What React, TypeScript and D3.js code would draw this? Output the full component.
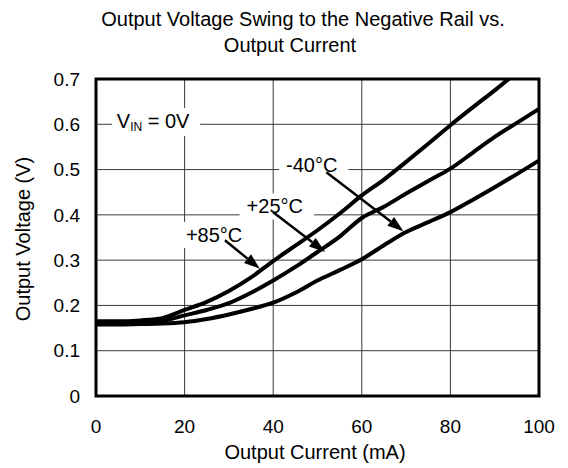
import { useEffect, useRef } from 'react';
import * as d3 from 'd3';

const W = 568;
const H = 468;

// output current (mA)
const currents = [0, 5, 10, 15, 20, 25, 30, 35, 40, 45, 50, 55, 60, 65, 70, 75, 80, 85, 90, 95, 100];
// output voltage (V) per temperature
const v85 = [0.165, 0.165, 0.167, 0.172, 0.19, 0.208, 0.232, 0.262, 0.298, 0.332, 0.366, 0.403, 0.443, 0.478, 0.517, 0.557, 0.598, 0.637, 0.675, 0.715, 0.755];
const v25 = [0.162, 0.162, 0.163, 0.166, 0.178, 0.19, 0.205, 0.228, 0.255, 0.285, 0.318, 0.352, 0.393, 0.418, 0.447, 0.475, 0.502, 0.537, 0.572, 0.603, 0.634];
const vm40 = [0.158, 0.158, 0.159, 0.16, 0.163, 0.17, 0.18, 0.192, 0.206, 0.228, 0.255, 0.278, 0.302, 0.333, 0.362, 0.384, 0.406, 0.433, 0.461, 0.49, 0.52];

const xTicks = [0, 20, 40, 60, 80, 100];
const yTicks = [0, 0.1, 0.2, 0.3, 0.4, 0.5, 0.6, 0.7];

// labels and arrows, in data units (mA, V)
const labels = ['+85°C', '+25°C', '-40°C'];
const labelPos = [[20.3, 0.34], [34.0, 0.403], [42.9, 0.494]];
const arrowFrom = [[29.1, 0.344], [40.0, 0.406], [52.0, 0.494]];
const arrowTo = [[37.0, 0.281], [51.7, 0.318], [69.4, 0.364]];

const FONT = 'Arial, "Liberation Sans", Helvetica, sans-serif';

export default function App() {
  const ref = useRef<SVGSVGElement>(null);

  useEffect(() => {
    document.body.style.margin = '0';
    const svg = d3.select(ref.current);
    svg.selectAll('*').remove();

    const x = d3.scaleLinear().domain([0, 100]).range([96, 539]);
    const y = d3.scaleLinear().domain([0, 0.7]).range([396, 79]);

    svg.append('defs').append('clipPath').attr('id', 'plot')
      .append('rect').attr('x', x(0)).attr('y', y(0.7))
      .attr('width', x(100) - x(0)).attr('height', y(0) - y(0.7));

    // ── title ──
    svg.append('text').attr('x', 303).attr('y', 26).attr('text-anchor', 'middle')
      .attr('font-family', FONT).attr('font-size', 20).text('Output Voltage Swing to the Negative Rail vs.');
    svg.append('text').attr('x', 290).attr('y', 52).attr('text-anchor', 'middle')
      .attr('font-family', FONT).attr('font-size', 20).text('Output Current');

    // ── grid ──
    const grid = svg.append('g').attr('stroke', '#3a3a3a').attr('stroke-width', 1);
    xTicks.slice(1, -1).forEach(t => {
      grid.append('line').attr('x1', x(t)).attr('x2', x(t)).attr('y1', y(0)).attr('y2', y(0.7));
    });
    yTicks.slice(1, -1).forEach(t => {
      grid.append('line').attr('x1', x(0)).attr('x2', x(100)).attr('y1', y(t)).attr('y2', y(t));
    });

    // ── tick labels ──
    xTicks.forEach(t => {
      svg.append('text').attr('x', x(t)).attr('y', 433).attr('text-anchor', 'middle')
        .attr('font-family', FONT).attr('font-size', 19).text(String(t));
    });
    yTicks.forEach(t => {
      svg.append('text').attr('x', 80).attr('y', y(t)).attr('dy', '0.35em').attr('text-anchor', 'end')
        .attr('font-family', FONT).attr('font-size', 19).text(t === 0 ? '0' : d3.format('.1f')(t));
    });

    // axis titles
    svg.append('text').attr('x', 315).attr('y', 459).attr('text-anchor', 'middle')
      .attr('font-family', FONT).attr('font-size', 20).text('Output Current (mA)');
    svg.append('text').attr('transform', `translate(30,239) rotate(-90)`).attr('text-anchor', 'middle')
      .attr('font-family', FONT).attr('font-size', 20).text('Output Voltage (V)');

    // ── annotation text with white boxes ──
    const ann = svg.append('g');
    const addBoxed = (node: d3.Selection<SVGTextElement, unknown, null, undefined>, padL: number, padR: number) => {
      const bb = (node.node() as SVGTextElement).getBBox();
      ann.insert('rect', ':first-child').attr('x', bb.x - padL).attr('y', bb.y - 2)
        .attr('width', bb.width + padL + padR).attr('height', bb.height + 4).attr('fill', '#fff');
    };

    const vin = ann.append('text').attr('x', x(4.7)).attr('y', y(0.592))
      .attr('font-family', FONT).attr('font-size', 20);
    vin.append('tspan').text('V');
    vin.append('tspan').attr('font-size', 12).attr('dy', 3).text('IN');
    vin.append('tspan').attr('dy', -3).text(' = 0V');
    addBoxed(vin, 5, 10);

    labels.forEach((l, i) => {
      const t = ann.append('text').attr('x', x(labelPos[i][0])).attr('y', y(labelPos[i][1]))
        .attr('font-family', FONT).attr('font-size', 20).text(l);
      addBoxed(t, 7, 11);
    });

    // ── frame ──
    svg.append('rect').attr('x', x(0)).attr('y', y(0.7))
      .attr('width', x(100) - x(0)).attr('height', y(0) - y(0.7))
      .attr('fill', 'none').attr('stroke', '#000').attr('stroke-width', 3);

    // ── curves ──
    const line = d3.line<number>().x((_, i) => x(currents[i])).y(d => y(d)).curve(d3.curveMonotoneX);
    [v85, v25, vm40].forEach(s => {
      svg.append('path').attr('d', line(s)).attr('clip-path', 'url(#plot)')
        .attr('fill', 'none').attr('stroke', '#000').attr('stroke-width', 4).attr('stroke-linejoin', 'round');
    });

    // ── arrows ──
    arrowFrom.forEach((f, i) => {
      const x1 = x(f[0]), y1 = y(f[1]);
      const x2 = x(arrowTo[i][0]), y2 = y(arrowTo[i][1]);
      const ang = Math.atan2(y2 - y1, x2 - x1);
      const hl = 16, hw = 5.5;
      const bx = x2 - hl * Math.cos(ang), by = y2 - hl * Math.sin(ang);
      svg.append('line').attr('x1', x1).attr('y1', y1).attr('x2', bx).attr('y2', by)
        .attr('stroke', '#000').attr('stroke-width', 2.5);
      const px = -Math.sin(ang) * hw, py = Math.cos(ang) * hw;
      svg.append('path')
        .attr('d', `M${x2},${y2}L${bx + px},${by + py}L${bx - px},${by - py}Z`)
        .attr('fill', '#000');
    });
  }, []);

  return <svg ref={ref} width={W} height={H} style={{ display: 'block', background: '#fff' }} />;
}
